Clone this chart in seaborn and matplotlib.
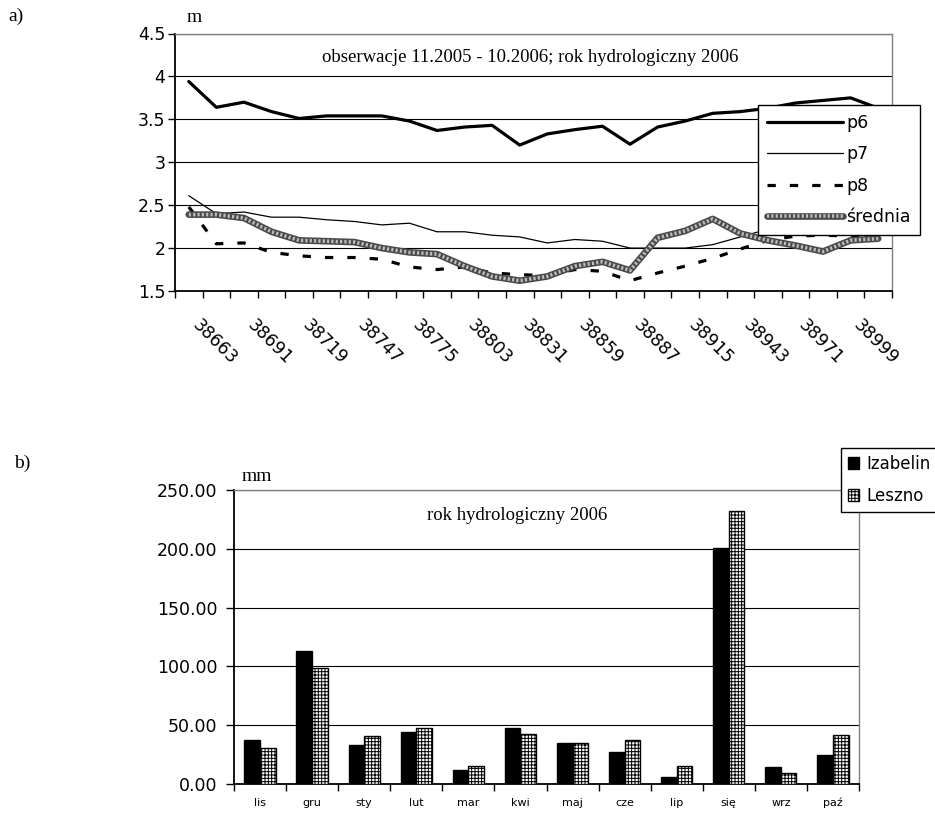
import numpy as np
import pandas as pd
import matplotlib
matplotlib.use("Agg")
import matplotlib.pyplot as plt
import seaborn as sns
from matplotlib.lines import Line2D
from matplotlib.patches import Patch
from matplotlib.ticker import FixedLocator, FuncFormatter
from matplotlib.transforms import ScaledTranslation

# ---------------- data: panel a) ----------------
dates = [38663, 38677, 38691, 38705, 38719, 38733, 38747, 38761, 38775, 38789,
         38803, 38817, 38831, 38845, 38859, 38873, 38887, 38901, 38915, 38929,
         38943, 38957, 38971, 38985, 38999, 39013]
p6 = [3.94, 3.64, 3.70, 3.59, 3.51, 3.54, 3.54, 3.54, 3.48, 3.37, 3.41, 3.43, 3.20,
      3.33, 3.38, 3.42, 3.21, 3.41, 3.48, 3.57, 3.59, 3.63, 3.69, 3.72, 3.75, 3.63]
p7 = [2.61, 2.40, 2.42, 2.36, 2.36, 2.33, 2.31, 2.27, 2.29, 2.19, 2.19, 2.15, 2.13,
      2.06, 2.10, 2.08, 2.00, 2.00, 2.00, 2.04, 2.13, 2.22, 2.26, 2.28, 2.27, 2.25]
p8 = [2.48, 2.05, 2.06, 1.95, 1.91, 1.89, 1.89, 1.87, 1.78, 1.75, 1.78, 1.71, 1.69,
      1.68, 1.75, 1.73, 1.62, 1.71, 1.79, 1.88, 1.99, 2.09, 2.14, 2.15, 2.14, 2.12]
srednia = [2.39, 2.39, 2.35, 2.19, 2.09, 2.08, 2.07, 2.00, 1.95, 1.93, 1.79, 1.67, 1.62,
           1.67, 1.79, 1.84, 1.74, 2.12, 2.20, 2.34, 2.17, 2.09, 2.03, 1.96, 2.09, 2.11]
labels_a = ["p6", "p7", "p8", "średnia"]

# ---------------- data: panel b) ----------------
months = ["lis", "gru", "sty", "lut", "mar", "kwi", "maj", "cze", "lip", "się", "wrz", "paź"]
izabelin = [37.7, 112.9, 33.4, 44.4, 11.9, 47.2, 34.8, 27.1, 6.3, 200.6, 14.3, 24.9]
leszno = [30.2, 98.9, 41.0, 47.2, 15.0, 42.4, 34.6, 37.7, 15.4, 232.0, 9.1, 41.7]
stations = ["Izabelin", "Leszno"]

# ---------------- style ----------------
sns.set_theme(style="ticks", rc={
    "text.color": "black", "axes.labelcolor": "black",
    "xtick.color": "black", "ytick.color": "black",
    "axes.edgecolor": "black",
})
plt.rcParams["font.family"] = ["DejaVu Sans"]
plt.rcParams["hatch.linewidth"] = 0.7
SERIF = ["Liberation Serif", "DejaVu Serif"]

W, H = 935, 816
fig = plt.figure(figsize=(W / 100, H / 100), dpi=100)
fig.patch.set_facecolor("white")


def fx(px):
    return px / W


def fy(py):
    return 1 - py / H


SR_DARK = "#4a4a4a"
SR_LIGHT = "#bdbdbd"

# ================= panel a) =================
ax1 = fig.add_axes([fx(175), fy(291), fx(892) - fx(175), fy(33.5) - fy(291)])
idx = list(range(len(dates)))
df_a = pd.DataFrame({"k": idx, "p6": p6, "p7": p7, "p8": p8, "srednia": srednia})

sns.lineplot(data=df_a, x="k", y="p6", ax=ax1, color="black", linewidth=2.3, zorder=3)
sns.lineplot(data=df_a, x="k", y="p7", ax=ax1, color="black", linewidth=0.9, zorder=3)
sns.lineplot(data=df_a, x="k", y="p8", ax=ax1, color="black", linewidth=2.3,
             linestyle=(0, (2.6, 4.4)), zorder=3)
for ln in ax1.get_lines()[-1:]:
    ln.set_dash_capstyle("butt")
sns.lineplot(data=df_a, x="k", y="srednia", ax=ax1, color=SR_DARK, linewidth=4.8, zorder=4)
sns.lineplot(data=df_a, x="k", y="srednia", ax=ax1, color=SR_LIGHT, linewidth=2.6,
             linestyle=(0, (0.6, 0.6)), zorder=5)

ax1.set_xlim(-0.5, len(dates) - 0.5)
ax1.set_ylim(1.5, 4.5)
ax1.set_xlabel("")
ax1.set_ylabel("")
ax1.set_yticks([1.5, 2, 2.5, 3, 3.5, 4, 4.5])
ax1.yaxis.set_major_formatter(FuncFormatter(lambda v, p: f"{v:g}"))
ax1.yaxis.grid(True, color="black", linewidth=0.8)
ax1.xaxis.grid(False)
ax1.set_axisbelow(True)

major_k = idx[::2][:13]
ax1.xaxis.set_major_locator(FixedLocator(major_k))
ax1.set_xticklabels([str(dates[k]) for k in major_k])
ax1.xaxis.set_minor_locator(FixedLocator([k - 0.5 for k in range(len(dates) + 1)]))
ax1.tick_params(axis="x", which="major", length=0, pad=23, labelsize=12.5)
ax1.tick_params(axis="x", which="minor", length=5, width=1, direction="out")
ax1.tick_params(axis="y", which="major", length=5, width=1, direction="out", pad=2, labelsize=12.5)
for lab in ax1.get_xticklabels():
    lab.set_rotation(-45)
    lab.set_ha("left")
    lab.set_va("center")
    lab.set_rotation_mode("anchor")
    lab.set_transform(lab.get_transform() + ScaledTranslation(0.06, 0, fig.dpi_scale_trans))

for s in ["left", "bottom"]:
    ax1.spines[s].set_color("black")
    ax1.spines[s].set_linewidth(1.3)
for s in ["top", "right"]:
    ax1.spines[s].set_visible(True)
    ax1.spines[s].set_color("#808080")
    ax1.spines[s].set_linewidth(1.0)

h_p6 = Line2D([], [], color="black", linewidth=2.3)
h_p7 = Line2D([], [], color="black", linewidth=0.9)
h_p8 = Line2D([], [], color="black", linewidth=2.3, linestyle=(0, (2.6, 4.4)),
              dash_capstyle="butt")
h_sr1 = Line2D([], [], color=SR_DARK, linewidth=4.8)
h_sr2 = Line2D([], [], color=SR_LIGHT, linewidth=2.6, linestyle=(0, (0.6, 0.6)))
leg1 = fig.legend([h_p6, h_p7, h_p8, (h_sr1, h_sr2)], labels_a,
                  loc="upper left", bbox_to_anchor=(fx(758), fy(105)),
                  bbox_transform=fig.transFigure, frameon=True, fancybox=False,
                  edgecolor="black", framealpha=1, borderaxespad=0, borderpad=0.5,
                  handlelength=4.4, handletextpad=0.2, labelspacing=0.78, fontsize=12.5)
leg1.get_frame().set_linewidth(1.0)

fig.text(fx(16), fy(16), "a)", family=SERIF, fontsize=14, ha="center", va="center")
fig.text(fx(194), fy(18), "m", family=SERIF, fontsize=14, ha="center", va="center")
fig.text(fx(530), fy(57), "obserwacje 11.2005 - 10.2006; rok hydrologiczny 2006",
         family=SERIF, fontsize=13.5, ha="center", va="center")

# ================= panel b) =================
ax2 = fig.add_axes([fx(234), fy(784), fx(859) - fx(234), fy(490) - fy(784)])
df_b = pd.DataFrame({
    "miesiac": months * 2,
    "mm": izabelin + leszno,
    "stacja": [stations[0]] * len(months) + [stations[1]] * len(months),
})
sns.barplot(data=df_b, x="miesiac", y="mm", hue="stacja", hue_order=stations,
            order=months, palette=["black", "white"], edgecolor="black", linewidth=1.0,
            width=0.6, saturation=1, legend=False, ax=ax2, zorder=3)
for bar in ax2.containers[1]:
    bar.set_hatch("+++++")

ax2.set_xlim(-0.5, len(months) - 0.5)
ax2.set_ylim(0, 250)
ax2.set_xlabel("")
ax2.set_ylabel("")
ax2.set_yticks([0, 50, 100, 150, 200, 250])
ax2.yaxis.set_major_formatter(FuncFormatter(lambda v, p: f"{v:.2f}"))
ax2.yaxis.grid(True, color="black", linewidth=0.8)
ax2.xaxis.grid(False)
ax2.set_axisbelow(True)
ax2.xaxis.set_minor_locator(FixedLocator([k - 0.5 for k in range(len(months) + 1)]))
ax2.tick_params(axis="x", which="major", length=0, pad=10, labelsize=8)
ax2.tick_params(axis="x", which="minor", length=5, width=1, direction="out")
ax2.tick_params(axis="y", which="major", length=6, width=1, direction="out", pad=6, labelsize=12.5)

for s in ["left", "bottom"]:
    ax2.spines[s].set_color("black")
    ax2.spines[s].set_linewidth(1.3)
for s in ["top", "right"]:
    ax2.spines[s].set_visible(True)
    ax2.spines[s].set_color("#808080")
    ax2.spines[s].set_linewidth(1.0)

h_iz = Patch(facecolor="black", edgecolor="black")
h_le = Patch(facecolor="white", edgecolor="black", hatch="+++++")
leg2 = fig.legend([h_iz, h_le], stations, loc="upper left",
                  bbox_to_anchor=(fx(841), fy(448)), bbox_transform=fig.transFigure,
                  frameon=True, fancybox=False, edgecolor="black", framealpha=1,
                  borderaxespad=0, borderpad=0.4, handlelength=0.7, handleheight=0.7,
                  handletextpad=0.4, labelspacing=0.85, fontsize=12)
leg2.get_frame().set_linewidth(1.0)

fig.text(fx(22), fy(463), "b)", family=SERIF, fontsize=14, ha="center", va="center")
fig.text(fx(257), fy(476), "mm", family=SERIF, fontsize=14, ha="center", va="center")
fig.text(fx(517), fy(516), "rok hydrologiczny 2006", family=SERIF, fontsize=13.5,
         ha="center", va="center")

fig.savefig("out.png", dpi=100, facecolor="white")
